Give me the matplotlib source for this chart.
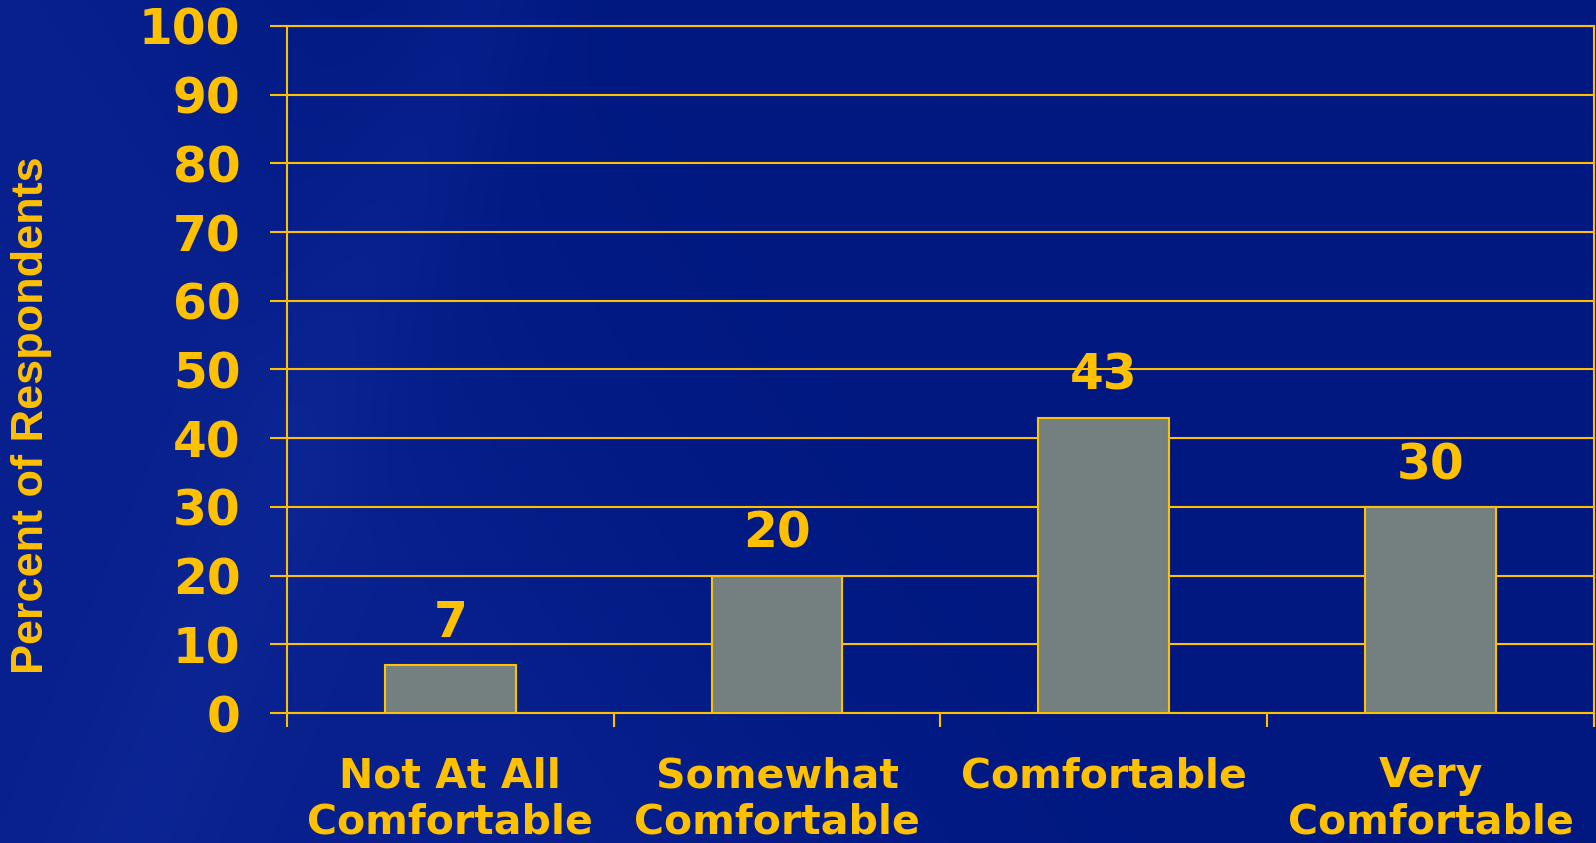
import numpy as np
import matplotlib
matplotlib.use('Agg')
import matplotlib.pyplot as plt

# data
categories = ['Not At All\nComfortable', 'Somewhat\nComfortable', 'Comfortable', 'Very\nComfortable']
percents = [7, 20, 43, 30]
yticks = [0, 10, 20, 30, 40, 50, 60, 70, 80, 90, 100]

gold = '#FFC000'
bar_grey = '#748080'

fig = plt.figure(figsize=(15.96, 8.43), dpi=100)

# navy slide background with a lighter diagonal sweep on the left
bg = fig.add_axes([0, 0, 1, 1], zorder=-10)
h, w = 200, 380
yy, xx = np.mgrid[0:h, 0:w]
d = (xx / w) * 1.0 + (yy / h) * -0.35
glow = np.clip(1 - d / 0.5, 0, 1) ** 2
band = np.exp(-((xx / w - 0.30 + 0.22 * (yy / h)) / 0.05) ** 2) * 0.25
t = np.clip(glow * 0.55 + band, 0, 1)
base = np.array([0, 24, 128]) / 255
light = np.array([14, 40, 152]) / 255
img = base[None, None, :] * (1 - t[..., None]) + light[None, None, :] * t[..., None]
bg.imshow(img, aspect='auto', extent=[0, 1, 0, 1], interpolation='bilinear')
bg.axis('off')

ax = fig.add_axes([0.1798, 0.1542, 0.8189, 0.815])
ax.set_facecolor('none')

x = np.arange(len(categories))
ax.bar(x, percents, width=0.4, color=bar_grey, edgecolor=gold, linewidth=1.5, zorder=3)

for xi, v in zip(x, percents):
    ax.annotate(str(v), (xi, v), xytext=(0, 20), textcoords='offset points',
                ha='center', va='baseline', fontsize=35, fontweight='bold',
                color=gold, family='DejaVu Sans')

ax.set_xlim(-0.5, len(categories) - 0.5)
ax.set_ylim(0, 100)
ax.set_yticks(yticks)
ax.set_yticklabels([str(v) for v in yticks])
ax.yaxis.grid(True, color=gold, linewidth=1.5, zorder=0)
ax.set_axisbelow(True)

# ticks at category boundaries, labels at centres
ax.set_xticks(np.arange(-0.5, len(categories)), minor=False)
ax.set_xticklabels([])
ax.set_xticks(x, minor=True)
ax.set_xticklabels(categories, minor=True, fontsize=29.5, fontweight='bold',
                   color=gold, family='DejaVu Sans', linespacing=1.22)
ax.tick_params(axis='x', which='minor', length=0, pad=31)
ax.tick_params(axis='x', which='major', length=10, width=1.5, color=gold, direction='out')
ax.tick_params(axis='y', length=12.5, width=1.5, color=gold, pad=21,
               labelsize=35, labelcolor=gold)
for lab in ax.get_yticklabels():
    lab.set_fontweight('bold')
    lab.set_family('DejaVu Sans')

for s in ax.spines.values():
    s.set_color(gold)
    s.set_linewidth(1.5)

fig.text(0.02, 0.507, 'Percent of Respondents', rotation=90, ha='center', va='center',
         fontsize=32.5, fontweight='bold', color=gold, family='Liberation Sans')

fig.savefig('out.png', dpi=100)
